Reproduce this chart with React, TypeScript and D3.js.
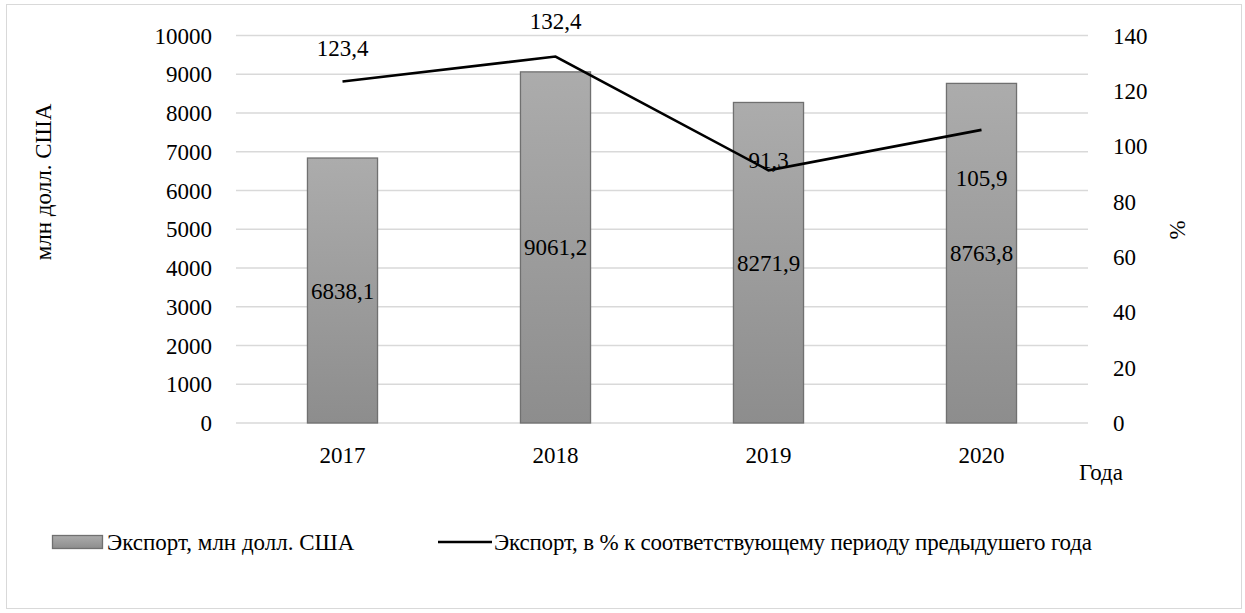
import React from 'react';
import * as d3 from 'd3';

const years = ['2017', '2018', '2019', '2020'];
const exportValues = [6838.1, 9061.2, 8271.9, 8763.8];
const exportPercent = [123.4, 132.4, 91.3, 105.9];
const leftTicks = [0, 1000, 2000, 3000, 4000, 5000, 6000, 7000, 8000, 9000, 10000];
const rightTicks = [0, 20, 40, 60, 80, 100, 120, 140];

// label nudges for the line values (Excel placed them by hand)
const pctLabelDy = [-33, -36, -10, 48];

const W = 1245;
const H = 613;
const left = 236;
const right = 1088;
const top = 35.5;
const bottom = 423;
const font = "'Times New Roman', 'Liberation Serif', 'Liberation Sans', Arial, sans-serif";

const fmt = (v: number) => v.toFixed(1).replace('.', ',');

const App = () => {
  const x = d3.scaleBand().domain(years).range([left, right]).paddingInner(0.671).paddingOuter(0.3355);
  const y = d3.scaleLinear().domain([0, 10000]).range([bottom, top]);
  const y2 = d3.scaleLinear().domain([0, 140]).range([bottom, top]);
  const cx = (d: string) => (x(d) as number) + x.bandwidth() / 2;

  const line = d3.line<number>()
    .x((_, i) => cx(years[i]))
    .y((d) => y2(d));

  return (
    <svg width={W} height={H} style={{ position: 'absolute', left: 0, top: 0 }}>
      <defs>
        <linearGradient id="barGrad" x1="0" y1="0" x2="0" y2="1">
          <stop offset="0" stopColor="#acacac" />
          <stop offset="1" stopColor="#8d8d8d" />
        </linearGradient>
      </defs>
      <rect x={0} y={0} width={W} height={H} fill="#fff" />
      <rect x={6.5} y={4.5} width={1235} height={604} fill="none" stroke="#d9d9d9" />

      {leftTicks.map((t) => (
        <line key={t} x1={left} x2={right} y1={y(t)} y2={y(t)} stroke="#d9d9d9" strokeWidth={1.3} />
      ))}

      {exportValues.map((v, i) => (
        <rect
          key={years[i]}
          x={x(years[i])}
          y={y(v)}
          width={x.bandwidth()}
          height={bottom - y(v)}
          fill="url(#barGrad)"
          stroke="#707070"
          strokeWidth={1.3}
        />
      ))}

      <path d={line(exportPercent) as string} fill="none" stroke="#000" strokeWidth={2.6} />

      <g style={{ fontFamily: font, fontSize: '23px' }} fill="#000">
        {exportValues.map((v, i) => (
          <text key={'v' + i} x={cx(years[i])} y={(y(v) + bottom) / 2} textAnchor="middle" dy="0.35em">
            {fmt(v)}
          </text>
        ))}
        {exportPercent.map((v, i) => (
          <text key={'p' + i} x={cx(years[i])} y={y2(v) + pctLabelDy[i]} textAnchor="middle" dy="0.35em">
            {fmt(v)}
          </text>
        ))}
        {leftTicks.map((t) => (
          <text key={'l' + t} x={212} y={y(t)} textAnchor="end" dy="0.35em">{t}</text>
        ))}
        {rightTicks.map((t) => (
          <text key={'r' + t} x={1113} y={y2(t)} textAnchor="start" dy="0.35em">{t}</text>
        ))}
        {years.map((d) => (
          <text key={'x' + d} x={cx(d)} y={455} textAnchor="middle" dy="0.35em">{d}</text>
        ))}
        <text x={1101} y={472} textAnchor="middle" dy="0.35em">Года</text>
        <text transform="translate(43,182) rotate(-90)" textAnchor="middle" dy="0.35em">млн долл. США</text>
        <text transform="translate(1177,230) rotate(-90)" textAnchor="middle" dy="0.35em">%</text>

        <rect x={52.5} y={535.5} width={50} height={13} fill="url(#barGrad)" stroke="#707070" strokeWidth={1.3} />
        <text x={107} y={542} dy="0.35em">Экспорт, млн долл. США</text>
        <line x1={438} x2={492} y1={542} y2={542} stroke="#000" strokeWidth={2.6} />
        <text x={494} y={542} dy="0.35em" textLength={598} lengthAdjust="spacing">
          Экспорт, в % к соответствующему периоду предыдушего года
        </text>
      </g>
    </svg>
  );
};

export default App;
